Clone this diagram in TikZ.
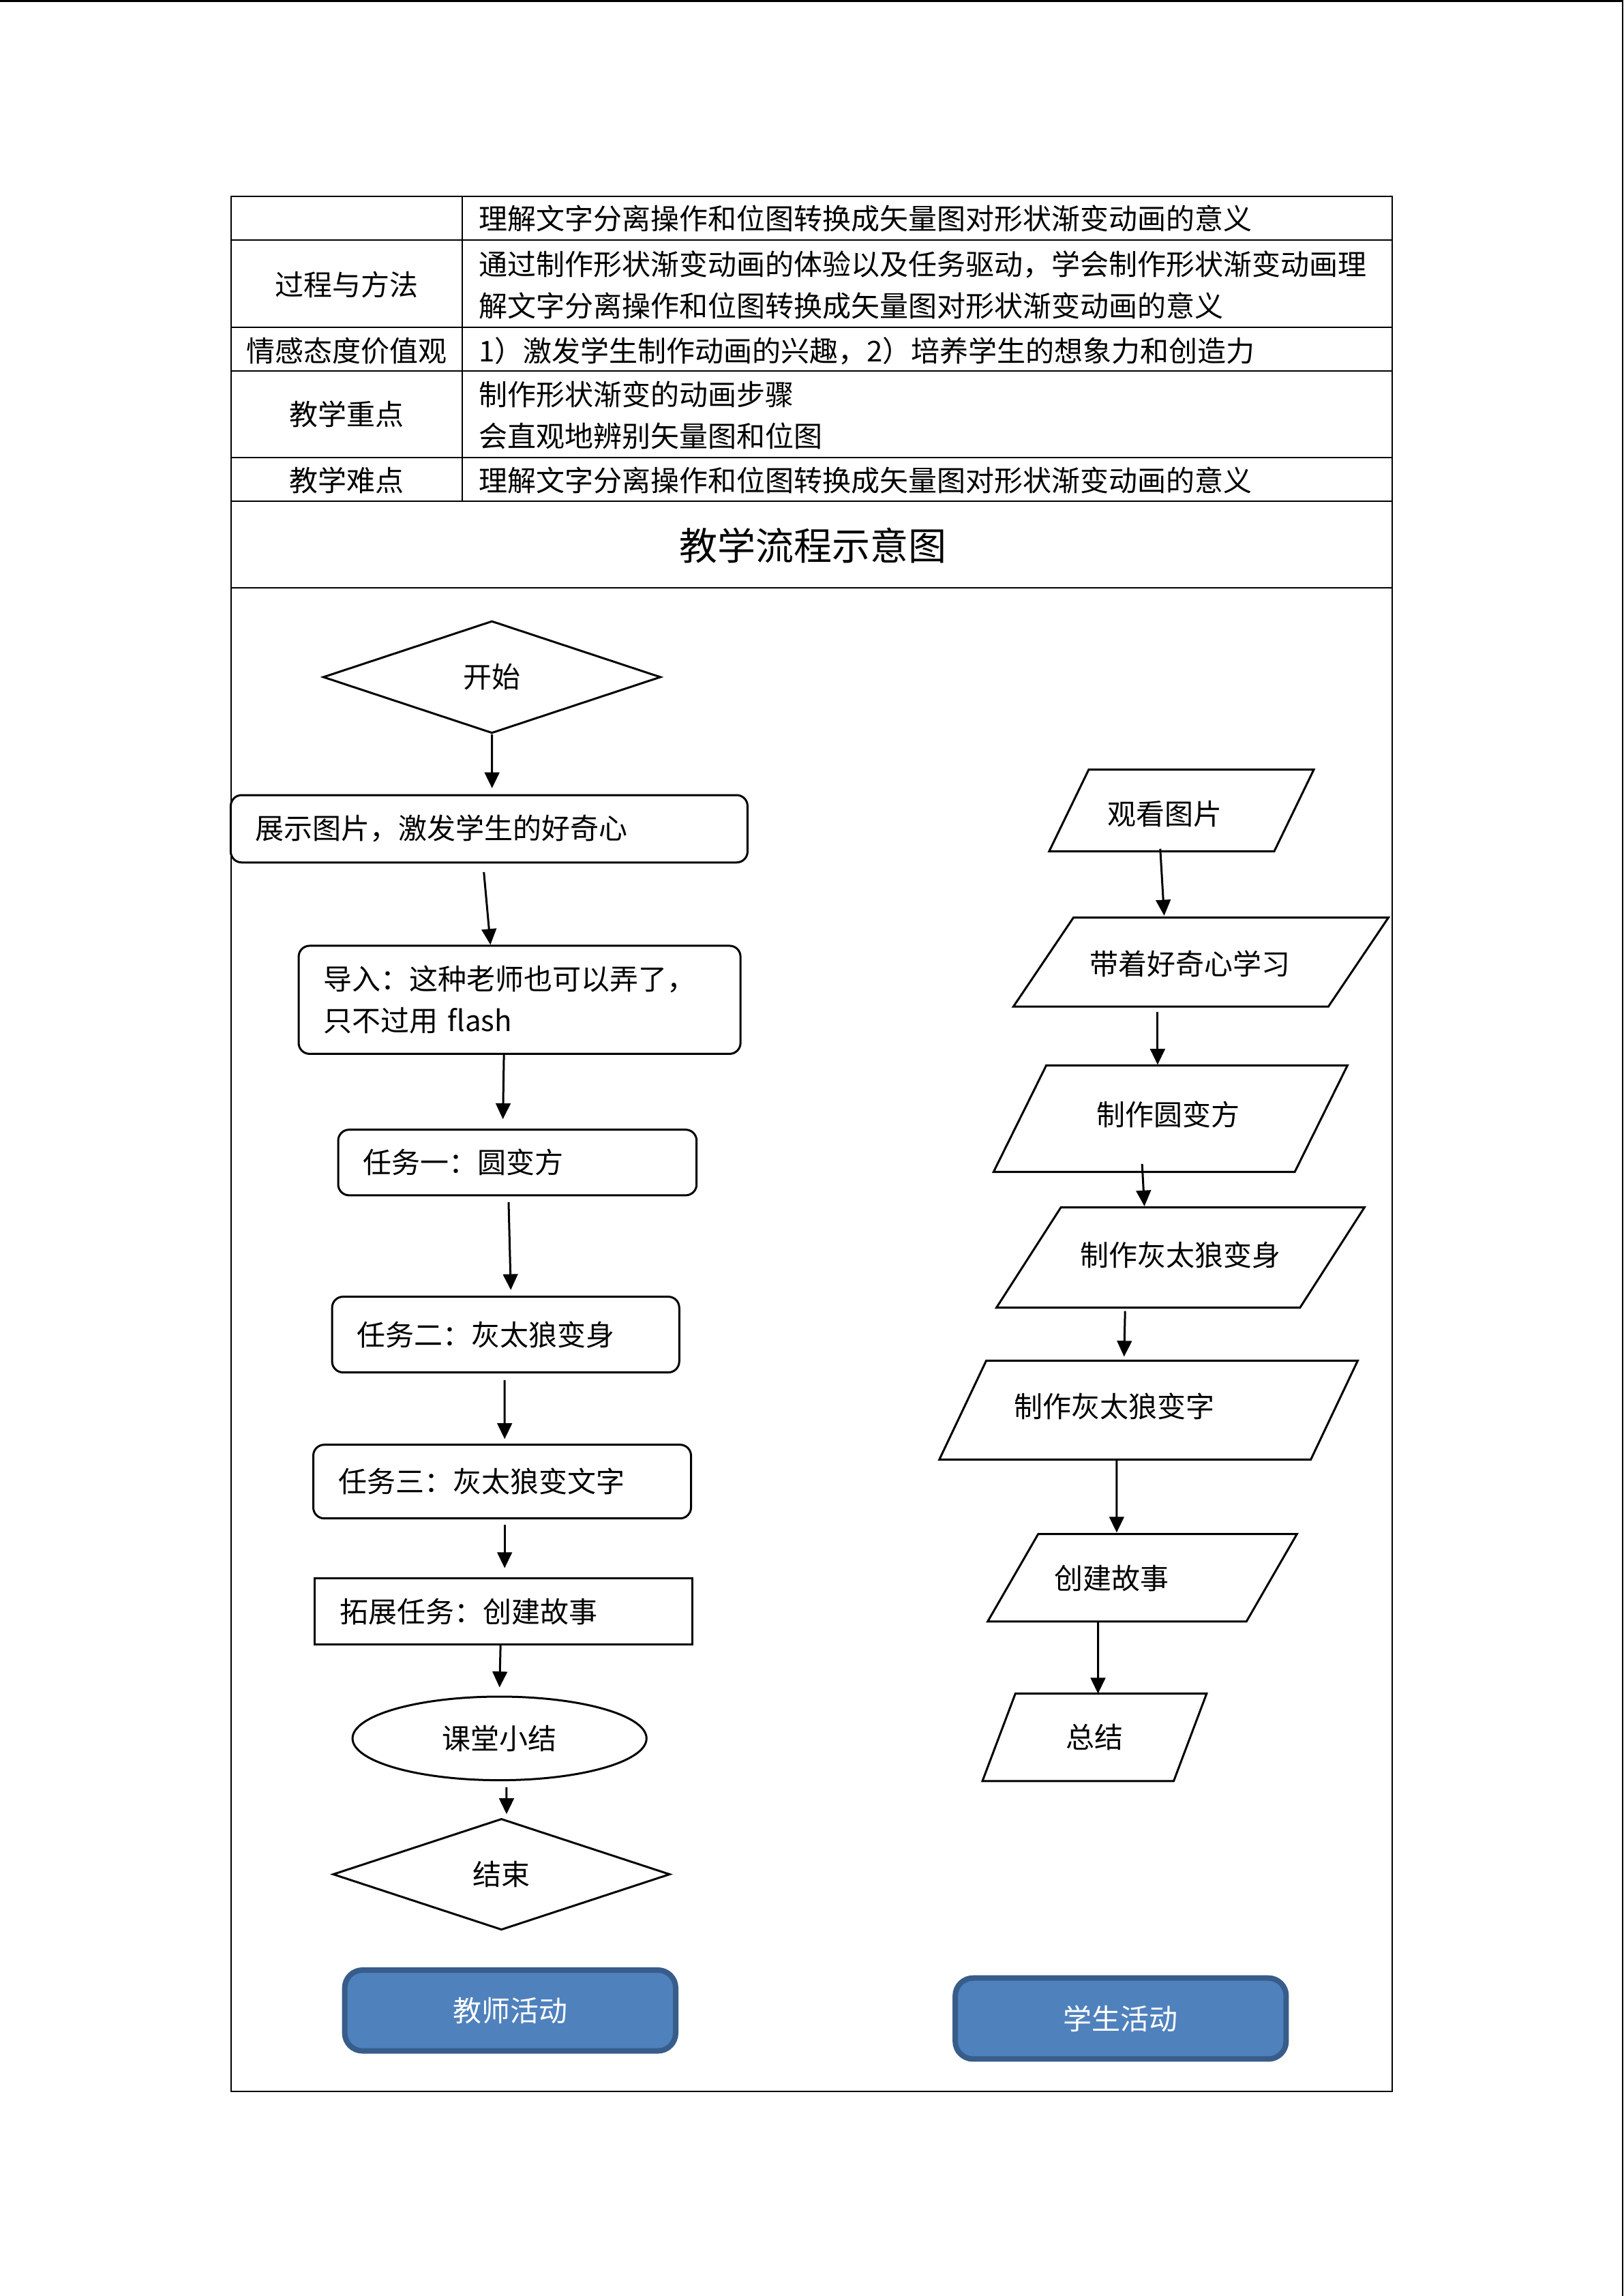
\documentclass[tikz,border=0pt]{standalone}
\usepackage{fontspec}
\setmainfont{Noto Sans CJK SC}
\usepackage{tikz}
\usetikzlibrary{arrows.meta, positioning, shapes.geometric, calc}

\definecolor{btnfill}{HTML}{4F81BD}
\definecolor{btnline}{HTML}{385D8A}
\newcommand{\pxu}{0.5368pt}

\begin{document}
\begin{tikzpicture}[
        x=\pxu, y=-\pxu,
        font=\fontsize{10.5}{15.3}\selectfont,
        grid/.style={line width=0.5pt},
        cell/.style={inner sep=0pt, anchor=west, align=left},
        head/.style={inner sep=0pt},
        flowline/.style={draw, line width=0.75pt},
        tbox/.style={flowline, rounded corners=4pt, inner xsep=17*\pxu, inner ysep=0pt, align=left},
        pbox/.style={inner sep=0pt},
        pline/.style={line width=0.75pt, line join=miter},
        arr/.style={line width=0.75pt, -{Triangle[length=5.8pt, width=5.4pt]}},
        btn/.style={draw=btnline, fill=btnfill, line width=2pt, rounded corners=6.5pt, text=white, inner sep=0pt}
    ]

    % Page
    \path[use as bounding box, fill=white] (0,0) rectangle (1109,1568);
    \draw[line width=0.85pt] (0,0.8) -- (1109,0.8);
    \draw[line width=0.5pt] (1108.3,0) -- (1108.3,1568);

    % Tableau des objectifs
    \draw[grid] (157.9,134.3) rectangle (951,1428.3);
    \draw[grid] (157.9,164) -- (951,164)
                (157.9,223.6) -- (951,223.6)
                (157.9,253.4) -- (951,253.4)
                (157.9,312.5) -- (951,312.5)
                (157.9,342.3) -- (951,342.3)
                (157.9,401.5) -- (951,401.5);
    \draw[grid] (315.8,134.3) -- (315.8,342.3);

    \node[cell] (goal1) at (326.6,149.2) {理解文字分离操作和位图转换成矢量图对形状渐变动画的意义};
    \node[head] (head2) at (236.9,194.5) {过程与方法};
    \node[cell] (goal2) at (326.6,194.5) {通过制作形状渐变动画的体验以及任务驱动，学会制作形状渐变动画理\\解文字分离操作和位图转换成矢量图对形状渐变动画的意义};
    \node[head] (head3) at (236.9,239.5) {情感态度价值观};
    \node[cell] (goal3) at (326.6,239.5) {1）激发学生制作动画的兴趣，2）培养学生的想象力和创造力};
    \node[head] (head4) at (236.9,283) {教学重点};
    \node[cell] (goal4) at (326.6,283.7) {制作形状渐变的动画步骤\\会直观地辨别矢量图和位图};
    \node[head] (head5) at (236.9,328) {教学难点};
    \node[cell] (goal5) at (326.6,328) {理解文字分离操作和位图转换成矢量图对形状渐变动画的意义};
    \node[head, font=\fontsize{14}{16}\selectfont] (title) at (555.5,372.5) {教学流程示意图};

    % Colonne gauche : activites du professeur
    \node[flowline, diamond, inner sep=0pt, minimum width=230.7*\pxu, minimum height=76.7*\pxu] (start) at (336,462.4) {开始};
    \node[tbox, text width=(353-34)*\pxu, minimum height=46*\pxu] (show) at (334.1,566) {展示图片，激发学生的好奇心};
    \node[tbox, text width=(301.8-34)*\pxu, minimum height=73.8*\pxu] (intro) at (354.9,682.8) {导入：这种老师也可以弄了，\\只不过用 flash};
    \node[tbox, text width=(244.8-34)*\pxu, minimum height=44.8*\pxu] (task1) at (353.4,793.9) {任务一：圆变方};
    \node[tbox, text width=(237.1-34)*\pxu, minimum height=51.7*\pxu] (task2) at (345.4,911.4) {任务二：灰太狼变身};
    \node[tbox, text width=(258-34)*\pxu, minimum height=50.3*\pxu] (task3) at (343,1011.8) {任务三：灰太狼变文字};
    \node[tbox, sharp corners, text width=(257.9-34)*\pxu, minimum height=45*\pxu] (extra) at (344,1100.5) {拓展任务：创建故事};
    \node[flowline, ellipse, inner sep=0pt, minimum width=200.8*\pxu, minimum height=57.1*\pxu] (summary) at (341.2,1187.2) {课堂小结};
    \node[flowline, diamond, inner sep=0pt, minimum width=230.3*\pxu, minimum height=76*\pxu] (finish) at (342.5,1280) {结束};
    \node[btn, minimum width=226*\pxu, minimum height=55.2*\pxu] (teacher) at (348.5,1373) {教师活动};

    \draw[arr] (start.south) -- ($(show.north)+(2,-4)$);
    \draw[arr] ($(show.south)+(-3.6,5.9)$) -- ($(intro.north)+(-19.9,0)$);
    \draw[arr] ($(intro.south)+(-10.7,0)$) -- ($(task1.north)+(-9.9,-6.5)$);
    \draw[arr] ($(task1.south)+(-6,4)$) -- ($(task2.north)+(3.5,-3.9)$);
    \draw[arr] ($(task2.south)+(-0.7,4.5)$) -- ($(task3.north)+(1.7,-3.2)$);
    \draw[arr] ($(task3.south)+(1.7,3.7)$) -- ($(extra.north)+(0.7,-6.4)$);
    \draw[arr] ($(extra.south)+(-2.1,0)$) -- ($(summary.north)+(0,-5.6)$);
    \draw[arr] ($(summary.south)+(4.8,4.2)$) -- ($(finish.north)+(3.5,-2.4)$);

    % Colonne droite : activites des eleves
    \node[pbox, minimum width=180*\pxu, minimum height=55*\pxu] (look) at (807,553.5) {};
    \draw[pline] ($(look.north west)+(27,0)$) -- (look.north east) -- ($(look.south east)+(-27,0)$) -- (look.south west) -- cycle;
    \node (look-t) at (795.5,556) {观看图片};

    \node[pbox, minimum width=255.4*\pxu, minimum height=60*\pxu] (curious) at (820.3,657) {};
    \draw[pline] ($(curious.north west)+(41,0)$) -- (curious.north east) -- ($(curious.south east)+(-41,0)$) -- (curious.south west) -- cycle;
    \node (curious-t) at (812.8,658) {带着好奇心学习};

    \node[pbox, minimum width=241*\pxu, minimum height=72*\pxu] (circle) at (799.5,764) {};
    \draw[pline] ($(circle.north west)+(36,0)$) -- (circle.north east) -- ($(circle.south east)+(-36,0)$) -- (circle.south west) -- cycle;
    \node (circle-t) at (797.8,761) {制作圆变方};

    \node[pbox, minimum width=250.6*\pxu, minimum height=67.7*\pxu] (morph) at (806.3,858.8) {};
    \draw[pline] ($(morph.north west)+(44,0)$) -- (morph.north east) -- ($(morph.south east)+(-44,0)$) -- (morph.south west) -- cycle;
    \node (morph-t) at (806.2,857) {制作灰太狼变身};

    \node[pbox, minimum width=285*\pxu, minimum height=66.7*\pxu] (word) at (784.5,963) {};
    \draw[pline] ($(word.north west)+(32,0)$) -- (word.north east) -- ($(word.south east)+(-32,0)$) -- (word.south west) -- cycle;
    \node (word-t) at (761.2,960.3) {制作灰太狼变字};

    \node[pbox, minimum width=210.5*\pxu, minimum height=59*\pxu] (story) at (780.25,1077.5) {};
    \draw[pline] ($(story.north west)+(34.5,0)$) -- (story.north east) -- ($(story.south east)+(-34.5,0)$) -- (story.south west) -- cycle;
    \node (story-t) at (759.5,1078) {创建故事};

    \node[pbox, minimum width=152.4*\pxu, minimum height=59*\pxu] (sum) at (747.6,1186.5) {};
    \draw[pline] ($(sum.north west)+(22.5,0)$) -- (sum.north east) -- ($(sum.south east)+(-22.5,0)$) -- (sum.south west) -- cycle;
    \node (sum-t) at (747.8,1186.3) {总结};

    \node[btn, minimum width=226*\pxu, minimum height=55.3*\pxu] (student) at (765.5,1378.5) {学生活动};

    \draw[arr] ($(look.south)+(-14.5,-1.7)$) -- ($(curious.north)+(-25.1,-1.3)$);
    \draw[arr] ($(curious.south)+(-29.6,3.5)$) -- ($(circle.north)+(-8.8,-0.5)$);
    \draw[arr] ($(circle.south)+(-19.4,-5.5)$) -- ($(morph.north)+(-24.6,-0.8)$);
    \draw[arr] ($(morph.south)+(-37.8,2.3)$) -- ($(word.north)+(-16.7,-2.8)$);
    \draw[arr] ($(word.south)+(-21.8,0)$) -- ($(story.north)+(-17.5,-1)$);
    \draw[arr] ($(story.south)+(-30.25,0)$) -- ($(sum.north)+(2.4,0)$);
\end{tikzpicture}
\end{document}
